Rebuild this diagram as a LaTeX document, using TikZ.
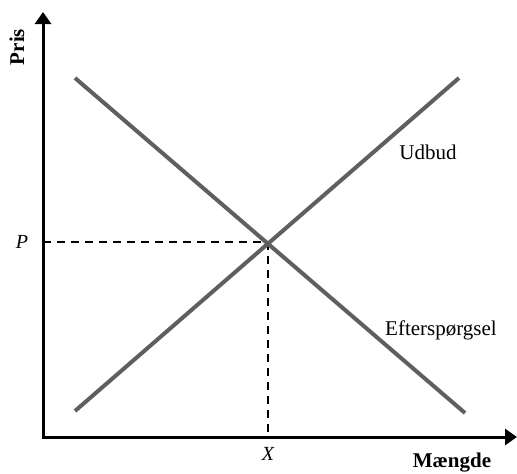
\documentclass[tikz,border=0pt]{standalone}
\usepackage{fontspec}
\setmainfont{Liberation Serif}
\usetikzlibrary{arrows.meta}
\definecolor{curvegray}{RGB}{95,95,95}
\begin{document}
\begin{tikzpicture}[x=1pt,y=-1pt,
  axis/.style={line width=3pt,black,-{Triangle[length=12pt,width=16pt]}},
  curve/.style={line width=4pt,curvegray},
  guide/.style={line width=2pt,black,dash pattern=on 8pt off 6pt},
  lbl/.style={font=\fontsize{21}{24}\selectfont,inner sep=0pt}]
\useasboundingbox (0,0) rectangle (517,474);
\coordinate (O) at (43,437);
\coordinate (ytip) at (43,12);
\coordinate (xtip) at (517,437);
\coordinate (dA) at (75,78);
\coordinate (dB) at (465,413);
\coordinate (sA) at (75,411);
\coordinate (sB) at (459,78);
\coordinate (E) at (268,242);
\coordinate (Py) at (43,242);
\coordinate (Xx) at (268,437);
\draw[guide] (Py) -- (E);
\draw[guide] (E) -- (Xx);
\draw[curve] (dA) -- (dB);
\draw[curve] (sA) -- (sB);
\draw[axis] ([yshift=1.5pt]O) -- (ytip);
\draw[axis] ([xshift=-1.5pt]O) -- (xtip);
\node[lbl,font=\fontsize{21}{24}\selectfont\bfseries,rotate=90] (pris) at (17,47) {Pris};
\node[lbl,font=\fontsize{21}{24}\selectfont\bfseries] (maengde) at (452,463) {Mængde};
\node[lbl,font=\fontsize{20}{24}\selectfont\itshape] (plbl) at (22,242) {P};
\node[lbl,font=\fontsize{20}{24}\selectfont\itshape] (xlbl) at (268,454) {X};
\node[lbl] (udbud) at (428,152) {Udbud};
\node[lbl] (eft) at (441,330) {Efterspørgsel};
\end{tikzpicture}
\end{document}
